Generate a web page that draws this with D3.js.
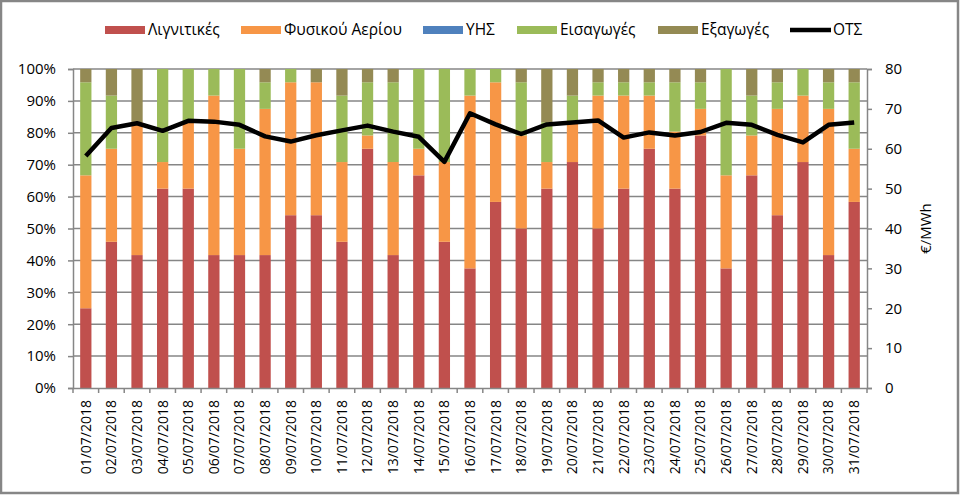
<!DOCTYPE html>
<html><head><meta charset="utf-8">
<script src="https://cdn.jsdelivr.net/npm/d3@7"></script>
<style>
html,body{margin:0;padding:0;background:#fff;}
svg{display:block;font-family:"Open Sans",sans-serif;}
</style></head>
<body><svg id="c" width="960" height="495"></svg>
<script>
const dates = ["01/07/2018","02/07/2018","03/07/2018","04/07/2018","05/07/2018","06/07/2018","07/07/2018","08/07/2018","09/07/2018","10/07/2018","11/07/2018","12/07/2018","13/07/2018","14/07/2018","15/07/2018","16/07/2018","17/07/2018","18/07/2018","19/07/2018","20/07/2018","21/07/2018","22/07/2018","23/07/2018","24/07/2018","25/07/2018","26/07/2018","27/07/2018","28/07/2018","29/07/2018","30/07/2018","31/07/2018"];
// shares in %
const lignite = [25,45.83,41.67,62.5,62.5,41.67,41.67,41.67,54.17,54.17,45.83,75,41.67,66.67,45.83,37.5,58.33,50,62.5,70.83,50,62.5,75,62.5,79.17,37.5,66.67,54.17,70.83,41.67,58.33];
const gas = [41.67,29.17,41.67,8.33,20.83,50,33.33,45.83,41.67,41.67,25,4.17,29.17,8.33,25,54.17,37.5,29.17,8.33,12.5,41.67,29.17,16.67,17.9,8.33,29.17,12.5,33.33,20.83,45.83,16.67];
const hydro = [0,0,0,0,0,0,0,0,0,0,0,0,0,0,0,0,0,0,0,0,0,0,0,0,0,0,0,0,0,0,0];
const imports = [29.17,16.67,0,29.17,16.67,8.33,25,8.33,4.17,0,20.83,16.67,25,25,29.17,8.33,4.17,16.67,12.5,8.33,4.17,4.17,4.17,15.43,8.33,33.33,12.5,8.33,8.33,8.33,20.83];
const exportsS = [4.17,8.33,16.67,0,0,0,0,4.17,0,4.17,8.33,4.17,4.17,0,0,0,0,4.17,16.67,8.33,4.17,4.17,4.17,4.17,4.17,0,8.33,4.17,0,4.17,4.17];
const ots = [58.2,65.2,66.4,64.5,67.0,66.8,66.0,63.1,61.8,63.4,64.6,65.8,64.3,63.0,56.7,68.9,66.1,63.7,66.1,66.6,67.1,62.8,64.1,63.3,64.2,66.5,66.0,63.5,61.6,66.0,66.6];
const seriesNames = ["Λιγνιτικές","Φυσικού Αερίου","ΥΗΣ","Εισαγωγές","Εξαγωγές"];
const lineName = "ΟΤΣ";
const colors = ["#C0504D","#F79646","#4F81BD","#9BBB59","#948A54"];
const pctTicks = [0,10,20,30,40,50,60,70,80,90,100];
const eurTicks = [0,10,20,30,40,50,60,70,80];
const rightTitle = "€/MWh";

const svg = d3.select("#c");
const L = 73, R = 867, T = 69, B = 388;
const grid = "#868686";

const table = dates.map((d,i)=>({date:d, s0:lignite[i], s1:gas[i], s2:hydro[i], s3:imports[i], s4:exportsS[i]}));
const keys = ["s0","s1","s2","s3","s4"];
const stacked = d3.stack().keys(keys)(table);

const x = d3.scaleBand().domain(dates).range([L,R]).paddingInner(0.56).paddingOuter(0.28);
const y = d3.scaleLinear().domain([0,100]).range([B,T]);
const y2 = d3.scaleLinear().domain([0,80]).range([B,T]);

// border
svg.append("rect").attr("x",1).attr("y",1).attr("width",957).attr("height",492)
  .attr("fill","#fff").attr("stroke",grid).attr("stroke-width",2.5);

// gridlines
svg.append("g").selectAll("line").data(pctTicks.slice(1)).join("line")
  .attr("x1",L).attr("x2",R).attr("y1",d=>y(d)).attr("y2",d=>y(d))
  .attr("stroke",grid).attr("stroke-width",1.5);

// bars
svg.append("g").selectAll("g").data(stacked).join("g")
  .attr("fill",(d,i)=>colors[i])
  .selectAll("rect").data(d=>d).join("rect")
  .attr("x",d=>x(d.data.date)).attr("width",x.bandwidth())
  .attr("y",d=>y(d[1])).attr("height",d=>Math.max(0,y(d[0])-y(d[1])));

// left axis
const ax = svg.append("g").attr("transform",`translate(${L},0)`)
  .call(d3.axisLeft(y).tickValues(pctTicks).tickFormat(d=>d+"%").tickSize(5).tickPadding(12));
ax.selectAll("text").attr("font-size",15).attr("fill","#000").attr("font-family","Open Sans");
ax.selectAll("line,path").attr("stroke",grid).attr("stroke-width",1.5);

// right axis
const ar = svg.append("g").attr("transform",`translate(${R},0)`)
  .call(d3.axisRight(y2).tickValues(eurTicks).tickSize(5).tickPadding(13));
ar.selectAll("text").attr("font-size",15).attr("fill","#000").attr("font-family","Open Sans");
ar.selectAll("line,path").attr("stroke",grid).attr("stroke-width",1.5);

// bottom axis
const ab = svg.append("g").attr("transform",`translate(0,${B})`)
  .call(d3.axisBottom(x).tickSize(0).tickPadding(0));
ab.select("path").attr("stroke",grid).attr("stroke-width",1.5);
ab.selectAll("text").attr("font-size",14).attr("fill","#000").attr("font-family","Open Sans")
  .attr("transform","rotate(-90)").attr("text-anchor","end").attr("dy","0.35em")
  .attr("x",-12).attr("y",0);
const bounds = dates.map(d=>x(d) - x.step()*x.paddingInner()/2).concat([R]);
svg.append("g").selectAll("line").data(bounds).join("line")
  .attr("x1",d=>d).attr("x2",d=>d).attr("y1",B).attr("y2",B+5)
  .attr("stroke",grid).attr("stroke-width",1.5);

// line
svg.append("path").datum(ots)
  .attr("fill","none").attr("stroke","#000").attr("stroke-width",4.5).attr("stroke-linejoin","round")
  .attr("d",d3.line().x((d,i)=>x(dates[i])+x.bandwidth()/2).y(d=>y2(d)));

// right title
svg.append("text").attr("transform",`translate(926,${(T+B)/2}) rotate(-90)`)
  .attr("text-anchor","middle").attr("dy","0.35em").attr("font-size",15).text(rightTitle);

// legend
const legX = [105,241,423,517,658,790];
const lg = svg.append("g");
seriesNames.forEach((n,i)=>{
  lg.append("rect").attr("x",legX[i]).attr("y",26).attr("width",40).attr("height",8).attr("fill",colors[i]);
  lg.append("text").attr("x",legX[i]+43).attr("y",30).attr("dy","0.35em").attr("font-size",15.5).text(n);
});
lg.append("line").attr("x1",legX[5]).attr("x2",legX[5]+41).attr("y1",30).attr("y2",30)
  .attr("stroke","#000").attr("stroke-width",4.5);
lg.append("text").attr("x",legX[5]+43).attr("y",30).attr("dy","0.35em").attr("font-size",15.5).text(lineName);
</script></body></html>
